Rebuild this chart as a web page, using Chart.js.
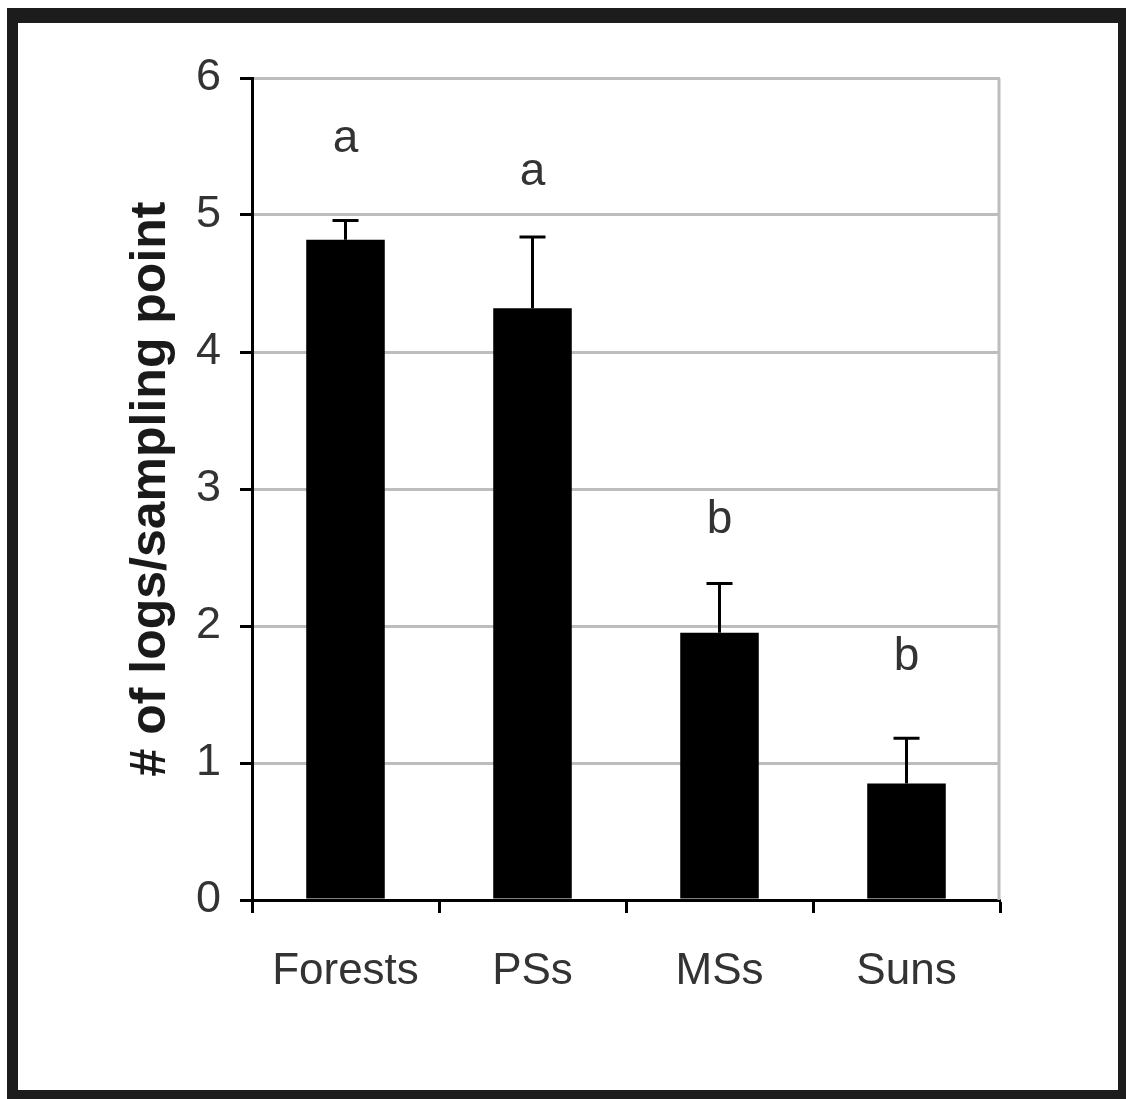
<!DOCTYPE html>
<html>
<head>
<meta charset="utf-8">
<script src="https://cdn.jsdelivr.net/npm/chart.js@4.4.1/dist/chart.umd.min.js"></script>
<style>
  html, body { margin: 0; padding: 0; background: #fff; }
  #wrap { width: 1126px; height: 1099px; position: relative; }
</style>
</head>
<body>
<div id="wrap"><canvas id="c" width="1126" height="1099"></canvas></div>
<script>
// Site types and mean number of logs per sampling point
const categories = ['Forests', 'PSs', 'MSs', 'Suns'];
const meanLogs = [4.82, 4.32, 1.95, 0.85];
// Standard error (upper bar only)
const stdErr = [0.14, 0.52, 0.36, 0.33];
// Significance groups and the axis level where each letter sits
const groupLetters = ['a', 'a', 'b', 'b'];
const letterLevels = [5.55, 5.31, 2.77, 1.77];
const yTicks = [0, 1, 2, 3, 4, 5, 6];

const FONT = "'Liberation Sans', Arial, sans-serif";
const TEXT = '#333';

const framePlugin = {
  id: 'frame',
  beforeDraw(chart) {
    const ctx = chart.ctx;
    ctx.save();
    ctx.fillStyle = '#fff';
    ctx.fillRect(0, 0, chart.width, chart.height);
    ctx.fillStyle = '#1c1c1c';
    ctx.fillRect(7, 8, 1119, 15);     // top
    ctx.fillRect(7, 8, 11, 1091);     // left
    ctx.fillRect(1118, 8, 8, 1091);   // right
    ctx.fillRect(7, 1090, 1119, 9);   // bottom
    ctx.restore();
  },
  beforeDatasetsDraw(chart) {
    // light right-hand edge of the plot area
    const { ctx, chartArea } = chart;
    ctx.save();
    ctx.strokeStyle = '#bdbdbd';
    ctx.lineWidth = 3;
    ctx.beginPath();
    ctx.moveTo(chartArea.right - 1, chartArea.top);
    ctx.lineTo(chartArea.right - 1, chartArea.bottom);
    ctx.stroke();
    ctx.restore();
  }
};

const errorBarPlugin = {
  id: 'errorBars',
  afterDatasetsDraw(chart) {
    const ctx = chart.ctx;
    const meta = chart.getDatasetMeta(0);
    const y = chart.scales.y;
    ctx.save();
    ctx.strokeStyle = '#000';
    ctx.lineWidth = 3;
    meta.data.forEach((bar, i) => {
      const yBase = y.getPixelForValue(meanLogs[i]);
      const yTop = y.getPixelForValue(meanLogs[i] + stdErr[i]);
      ctx.beginPath();
      ctx.moveTo(bar.x, yBase);
      ctx.lineTo(bar.x, yTop);
      ctx.moveTo(bar.x - 13, yTop);
      ctx.lineTo(bar.x + 13, yTop);
      ctx.stroke();
    });
    // group letters above the bars
    ctx.fillStyle = TEXT;
    ctx.font = '46px ' + FONT;
    ctx.textAlign = 'center';
    ctx.textBaseline = 'middle';
    meta.data.forEach((bar, i) => {
      ctx.fillText(groupLetters[i], bar.x, y.getPixelForValue(letterLevels[i]));
    });
    ctx.restore();
  }
};

new Chart(document.getElementById('c'), {
  type: 'bar',
  data: {
    labels: categories,
    datasets: [{
      data: meanLogs,
      backgroundColor: '#000',
      borderWidth: 0,
      barPercentage: 0.42,
      categoryPercentage: 1.0
    }]
  },
  options: {
    responsive: false,
    animation: false,
    events: [],
    layout: { padding: { left: 0, top: 78, right: 126, bottom: 0 } },
    plugins: { legend: { display: false }, tooltip: { enabled: false } },
    scales: {
      x: {
        grid: {
          display: true,
          offset: true,
          drawOnChartArea: false,
          drawTicks: true,
          tickLength: 13,
          tickColor: '#000',
          tickWidth: 3
        },
        border: { display: true, color: '#000', width: 3 },
        ticks: {
          color: TEXT,
          font: { family: FONT, size: 44 },
          padding: 32,
          maxRotation: 0
        },
        afterFit(scale) { scale.height = 199; }
      },
      y: {
        min: 0,
        max: 6,
        afterBuildTicks(scale) { scale.ticks = yTicks.map(v => ({ value: v })); },
        grid: {
          color: '#bdbdbd',
          lineWidth: 3,
          tickLength: 12,
          tickColor: '#000',
          tickWidth: 3
        },
        border: { display: true, color: '#000', width: 3 },
        ticks: {
          color: TEXT,
          font: { family: FONT, size: 45 },
          padding: 19
        },
        title: {
          display: true,
          text: '# of logs/sampling point',
          color: '#1a1a1a',
          font: { family: FONT, size: 50, weight: 'bold' },
          padding: { top: 121, bottom: 0 }
        },
        afterFit(scale) { scale.width = 252; }
      }
    }
  },
  plugins: [framePlugin, errorBarPlugin]
});
</script>
</body>
</html>
